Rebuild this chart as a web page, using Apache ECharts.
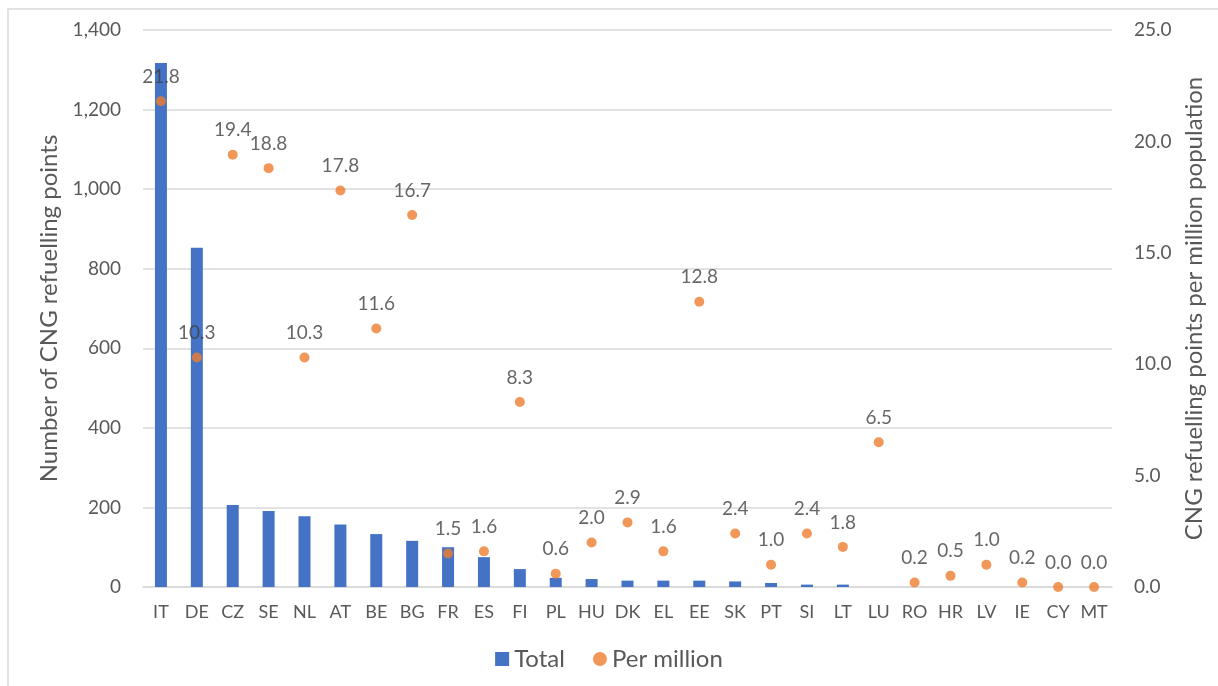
<!DOCTYPE html>
<html>
<head>
<meta charset="utf-8">
<script src="https://cdn.jsdelivr.net/npm/echarts@6/dist/echarts.min.js"></script>
<style>
html,body{margin:0;padding:0;background:#fff;}
#echart{width:1218px;height:686px;}
</style>
</head>
<body>
<div id="echart"></div>
<script>
// countries
var countries = ['IT','DE','CZ','SE','NL','AT','BE','BG','FR','ES','FI','PL','HU','DK','EL','EE','SK','PT','SI','LT','LU','RO','HR','LV','IE','CY','MT'];
// number of CNG refuelling points
var totalPoints = [1317,853,206,191,178,157,133,116,100,75,45,23,20,16,16,16,14,10,6,6,0,0,0,0,0,0,0];
// points per million population
var perMillion = [21.8,10.3,19.4,18.8,10.3,17.8,11.6,16.7,1.5,1.6,8.3,0.6,2.0,2.9,1.6,12.8,2.4,1.0,2.4,1.8,6.5,0.2,0.5,1.0,0.2,0.0,0.0];
var leftTicks = [0,1400,200];
var rightTicks = [0,25,5];

var fontName = 'Lato';

function initChart(){
	var myChart = echarts.init(document.getElementById('echart'));
	var option = {
		animation:false,
		textStyle:{fontFamily:fontName},
		graphic:[{
			type:'rect',
			shape:{x:8,y:9,width:1260,height:740},
			style:{fill:'none',stroke:'#d9d9d9',lineWidth:1.5},
			silent:true
		}],
		grid:{left:143,right:106,top:30,bottom:99},
		legend:{
			bottom:10,
			left:'center',
			itemGap:28,
			itemWidth:14,
			itemHeight:14,
			textStyle:{fontSize:24,color:'#595959',fontFamily:fontName},
			data:[{name:'Total',icon:'rect'},{name:'Per million',icon:'circle'}]
		},
		xAxis:{
			type:'category',
			data:countries,
			axisTick:{show:false},
			axisLine:{lineStyle:{color:'#d9d9d9',width:1.5}},
			axisLabel:{color:'#595959',fontSize:18,margin:16,interval:0}
		},
		yAxis:[{
			type:'value',
			min:leftTicks[0],max:leftTicks[1],interval:leftTicks[2],
			name:'Number of CNG refuelling points',
			nameLocation:'middle',
			nameGap:78,
			nameTextStyle:{fontSize:24,color:'#595959'},
			axisLine:{show:false},
			axisTick:{show:false},
			splitLine:{lineStyle:{color:'#d9d9d9',width:1.5}},
			axisLabel:{
				color:'#595959',fontSize:19,margin:22,
				formatter:function(v){return v.toLocaleString('en-US');}
			}
		},{
			type:'value',
			min:rightTicks[0],max:rightTicks[1],interval:rightTicks[2],
			name:'CNG refuelling points per million population',
			nameLocation:'middle',
			nameGap:67,
			nameRotate:90,
			nameTextStyle:{fontSize:24,color:'#595959'},
			axisLine:{show:false},
			axisTick:{show:false},
			splitLine:{show:false},
			axisLabel:{
				color:'#595959',fontSize:19,margin:22,
				formatter:function(v){return v.toFixed(1);}
			}
		}],
		series:[{
			name:'Total',
			type:'bar',
			data:totalPoints,
			barWidth:12,
			itemStyle:{color:'#4472C4'}
		},{
			name:'Per million',
			type:'scatter',
			yAxisIndex:1,
			data:perMillion,
			symbolSize:10,
			itemStyle:{color:'#ED7D31'},
			label:{
				show:true,
				position:'top',
				distance:10,
				color:'#404040',
				fontSize:19,
				formatter:function(p){return p.value.toFixed(1);}
			},
			z:5
		}]
	};
	myChart.setOption(option);
}
initChart();
</script>
</body>
</html>
